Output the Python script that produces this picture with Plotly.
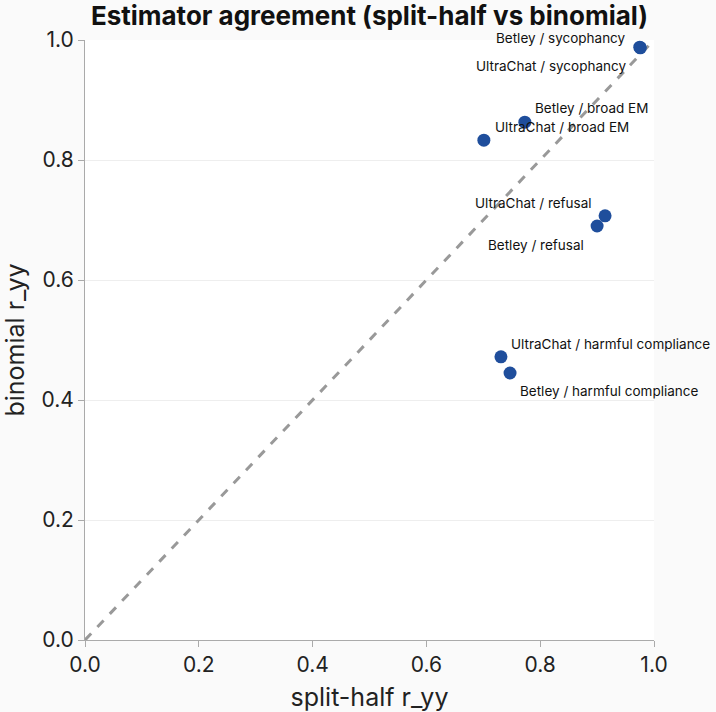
import plotly.graph_objects as go

labels = ["Betley / sycophancy", "UltraChat / sycophancy", "Betley / broad EM", "UltraChat / broad EM",
          "UltraChat / refusal", "Betley / refusal", "UltraChat / harmful compliance", "Betley / harmful compliance"]
split_half = [0.975, 0.976, 0.773, 0.701, 0.914, 0.900, 0.731, 0.747]
binomial = [0.988, 0.987, 0.863, 0.833, 0.707, 0.690, 0.472, 0.445]

# label placement style: (xanchor, xshift px, yshift px)
label_style = [("right", -13, 9), ("right", -13, -18), ("left", 9, 14), ("left", 10, 13),
               ("right", -12, 13), ("right", -12, -19), ("left", 9, 13), ("left", 9, -18)]

fig = go.Figure()
fig.add_trace(go.Scatter(x=[0, 1], y=[0, 1], mode="lines",
                         line=dict(color="#999999", width=3, dash="dash"),
                         hoverinfo="skip", showlegend=False))
fig.add_trace(go.Scatter(x=split_half, y=binomial, mode="markers",
                         marker=dict(size=13, color="#1f4e9c"),
                         cliponaxis=False, showlegend=False))

for lab, xv, yv, (xa, xs, ys) in zip(labels, split_half, binomial, label_style):
    fig.add_annotation(x=xv, y=yv, text=lab, showarrow=False, xanchor=xa, yanchor="middle",
                       xshift=xs, yshift=ys, borderpad=0,
                       font=dict(family="Inter", size=13.5, color="#111111"))

fig.update_layout(
    width=716, height=712,
    margin=dict(l=85, r=62, t=40, b=72),
    paper_bgcolor="#fafafa", plot_bgcolor="#ffffff",
    font=dict(family="Inter", color="#222222"),
    title=dict(text="<b>Estimator agreement (split-half vs binomial)</b>", x=0.5, xref="paper",
               xanchor="center", y=0.978, yref="container", yanchor="middle",
               font=dict(size=26, color="#111111", family="Inter")),
)
fig.update_xaxes(range=[0, 1], dtick=0.2, tickformat=".1f", showgrid=False, zeroline=False,
                 showline=True, linecolor="#aaaaaa", linewidth=1, ticks="outside", ticklen=6,
                 tickcolor="#aaaaaa", tickfont=dict(size=21), automargin=False,
                 title=dict(text="split-half r_yy", font=dict(size=25), standoff=12))
fig.update_yaxes(range=[0, 1], dtick=0.2, tickformat=".1f", showgrid=True, gridcolor="#eeeeee",
                 zeroline=False, showline=True, linecolor="#aaaaaa", linewidth=1, ticks="outside",
                 ticklen=6, tickcolor="#aaaaaa", tickfont=dict(size=21), automargin=False,
                 title=dict(text="binomial r_yy", font=dict(size=25), standoff=12))

fig.write_html("out.html")
